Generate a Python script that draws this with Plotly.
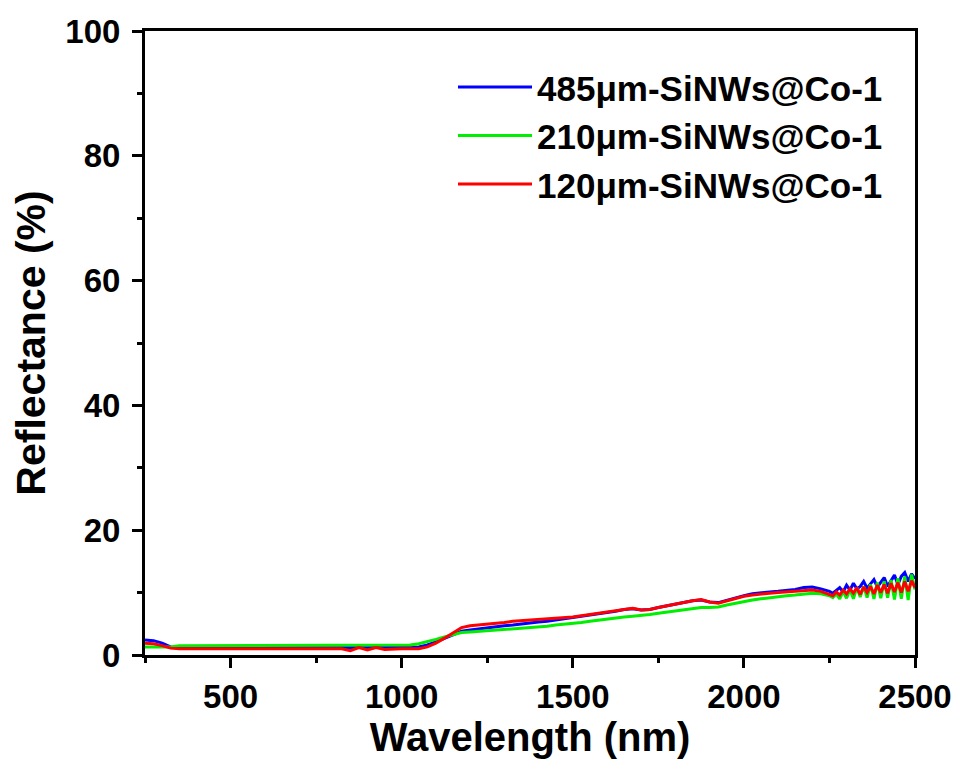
import plotly.graph_objects as go

wavelength = [250, 275, 300, 325, 350, 375, 400, 425, 450, 475, 500, 525, 550, 575, 600, 625, 650, 675, 700,
              725, 750, 775, 800, 825, 850, 875, 900, 925, 950, 975, 1000, 1025, 1050, 1075, 1100, 1125, 1150,
              1175, 1200, 1225, 1250, 1275, 1300, 1325, 1350, 1375, 1400, 1425, 1450, 1475, 1500, 1525, 1550,
              1575, 1600, 1625, 1650, 1675, 1700, 1725, 1750, 1775, 1800, 1825, 1850, 1875, 1900, 1925, 1950,
              1975, 2000, 2025, 2050, 2075, 2100, 2125, 2150, 2175, 2200, 2225, 2250,
              2260, 2270, 2280, 2290, 2300, 2310, 2320, 2330, 2340, 2350, 2360, 2370, 2380, 2390, 2400,
              2410, 2420, 2430, 2440, 2450, 2460, 2470, 2480, 2490, 2500]

r_485 = [2.4, 2.3, 1.9, 1.3, 1.2, 1.2, 1.2, 1.2, 1.2, 1.2, 1.2, 1.2, 1.2, 1.2, 1.2, 1.2, 1.2, 1.2, 1.2,
         1.2, 1.2, 1.2, 1.2, 1.1, 1.2, 1.1, 1.2, 1.1, 1.2, 1.2, 1.2, 1.2, 1.3, 1.6, 2.1, 2.7, 3.3,
         3.8, 4.0, 4.2, 4.4, 4.5, 4.7, 4.8, 5.0, 5.2, 5.3, 5.4, 5.6, 5.7, 5.9, 6.1, 6.3,
         6.6, 6.8, 7.0, 7.3, 7.4, 7.2, 7.3, 7.6, 7.9, 8.2, 8.5, 8.7, 8.8, 8.5, 8.4, 8.8,
         9.2, 9.5, 9.8, 10.0, 10.1, 10.2, 10.3, 10.5, 10.8, 10.9, 10.6, 10.2,
         9.9, 10.3, 10.8, 10.1, 11.2, 10.4, 11.5, 10.6, 11.0, 11.8, 10.7, 11.4, 12.1, 10.9, 11.6,
         12.4, 11.0, 12.0, 12.8, 11.3, 12.6, 13.2, 11.8, 13.0, 12.2]

r_210 = [1.3, 1.3, 1.3, 1.3, 1.5, 1.5, 1.5, 1.5, 1.5, 1.5, 1.5, 1.5, 1.5, 1.5, 1.5, 1.5, 1.5, 1.5, 1.5,
         1.5, 1.5, 1.5, 1.5, 1.5, 1.6, 1.5, 1.5, 1.5, 1.5, 1.5, 1.5, 1.6, 1.8, 2.1, 2.5, 2.9, 3.3,
         3.6, 3.7, 3.8, 3.9, 4.0, 4.1, 4.2, 4.2, 4.4, 4.5, 4.6, 4.8, 4.9, 5.0, 5.2, 5.4,
         5.6, 5.8, 6.0, 6.1, 6.2, 6.3, 6.5, 6.7, 6.9, 7.1, 7.3, 7.5, 7.6, 7.6, 7.7, 8.0,
         8.3, 8.6, 8.8, 9.0, 9.2, 9.3, 9.5, 9.6, 9.8, 9.9, 9.8, 9.5,
         9.2, 9.8, 9.0, 10.2, 9.1, 10.5, 9.0, 10.8, 9.3, 11.0, 9.2, 11.3, 9.0, 11.6, 9.1,
         11.8, 9.2, 12.0, 8.9, 12.3, 9.0, 12.6, 8.8, 12.9, 10.5]

r_120 = [1.9, 1.8, 1.5, 1.1, 1.0, 1.0, 1.0, 1.0, 1.0, 1.0, 1.0, 1.0, 1.0, 1.0, 1.0, 1.0, 1.0, 1.0, 1.0,
         1.0, 1.0, 1.0, 1.0, 1.0, 0.7, 1.2, 0.8, 1.2, 0.9, 1.0, 1.0, 1.0, 1.0, 1.3, 1.9, 2.7, 3.6,
         4.4, 4.7, 4.8, 5.0, 5.1, 5.2, 5.4, 5.5, 5.6, 5.6, 5.7, 5.8, 5.9, 6.1, 6.3, 6.5,
         6.7, 6.9, 7.1, 7.4, 7.5, 7.2, 7.3, 7.6, 7.9, 8.2, 8.5, 8.7, 8.9, 8.5, 8.3, 8.7,
         9.1, 9.4, 9.6, 9.8, 9.9, 10.0, 10.1, 10.2, 10.3, 10.4, 10.2, 9.7,
         9.5, 10.1, 9.6, 10.4, 9.8, 10.6, 9.9, 10.8, 9.7, 10.9, 10.0, 11.0, 9.8, 11.2, 10.0,
         11.3, 9.9, 11.5, 10.1, 11.6, 10.0, 11.8, 10.2, 11.9, 10.8]

series_names = ["485μm-SiNWs@Co-1", "210μm-SiNWs@Co-1", "120μm-SiNWs@Co-1"]
series_values = [r_485, r_210, r_120]
series_colors = ["#0000ff", "#00ee00", "#ff0000"]

FONT = "Arial, Liberation Sans, sans-serif"

fig = go.Figure()
for name, vals, col in zip(series_names, series_values, series_colors):
    fig.add_trace(go.Scatter(x=wavelength, y=vals, mode="lines", name=name,
                             legendgroup=name,
                             line=dict(color=col, width=3)))

axis_common = dict(
    showline=True, linecolor="black", linewidth=3, mirror=True,
    ticks="outside", ticklen=10, tickwidth=3, tickcolor="black",
    showgrid=False, zeroline=False, automargin=False,
    tickfont=dict(family=FONT, size=33, color="black", weight="bold"),
)

fig.update_xaxes(
    range=[250, 2500], tickmode="linear", tick0=0, dtick=500,
    minor=dict(ticks="outside", ticklen=5, tickwidth=3, tickcolor="black", tick0=250, dtick=250),
    title=dict(text="Wavelength (nm)", font=dict(family=FONT, size=40, color="black", weight="bold"), standoff=6),
    **axis_common,
)
fig.update_yaxes(
    range=[0, 100], tickmode="linear", tick0=0, dtick=20,
    minor=dict(ticks="outside", ticklen=5, tickwidth=3, tickcolor="black", tick0=0, dtick=10),
    ticklabelstandoff=5,
    title=dict(text="Reflectance (%)", font=dict(family=FONT, size=41, color="black", weight="bold"), standoff=10),
    **axis_common,
)

# page body has an 8px default margin, so the figure is sized/offset to compensate
fig.update_layout(
    width=951, height=757,
    margin=dict(l=137, r=44, t=23, b=110),
    paper_bgcolor="white", plot_bgcolor="white",
    showlegend=True,
    legend=dict(x=0.400, y=0.957, xanchor="left", yanchor="top",
                bgcolor="rgba(0,0,0,0)", borderwidth=0,
                itemwidth=74, tracegroupgap=0,
                font=dict(family=FONT, size=35, color="black", weight="bold")),
)

fig.write_html("out.html")
